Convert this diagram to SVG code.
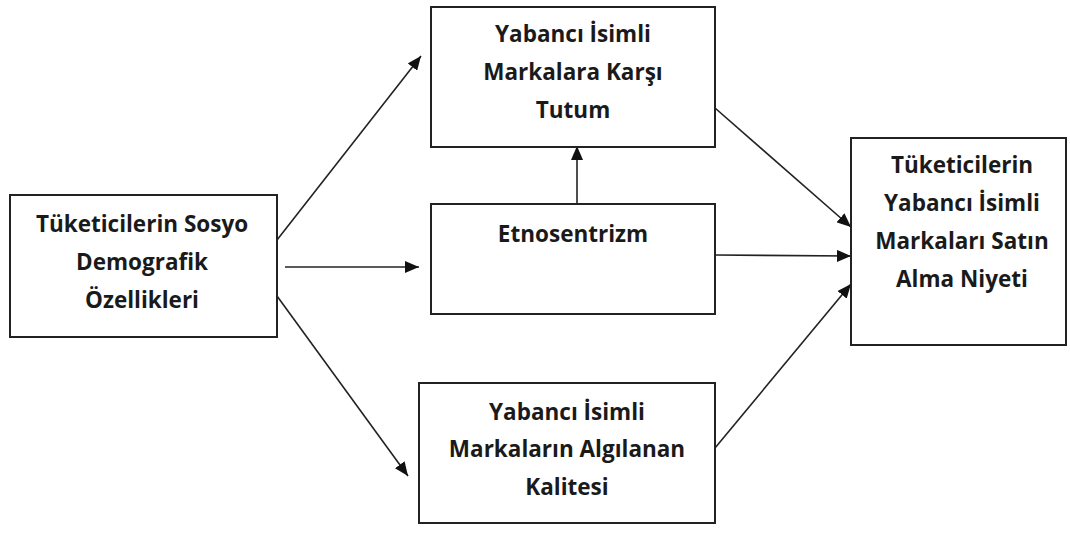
<svg xmlns="http://www.w3.org/2000/svg" width="1070" height="536" viewBox="0 0 1070 536">
<defs>
<style>
.box{fill:#fff;stroke:#222;stroke-width:2}
.t{font-family:"Open Sans","Liberation Sans",sans-serif;font-weight:700;font-size:22.5px;fill:#1a1a1a;text-anchor:middle}
.c{stroke:#222;stroke-width:1.6;fill:none;marker-end:url(#ah)}
</style>
<marker id="ah" viewBox="0 0 14 12" refX="14" refY="6" markerWidth="14" markerHeight="12" markerUnits="userSpaceOnUse" orient="auto">
<path d="M0,0 L14,6 L0,12 Z" fill="#111"/>
</marker>
</defs>
<rect width="1070" height="536" fill="#fff"/>
<g id="connectors">
<line class="c" x1="277" y1="240" x2="421" y2="56"/>
<line class="c" x1="285" y1="267" x2="419" y2="267"/>
<line class="c" x1="277" y1="296" x2="408" y2="476"/>
<line class="c" x1="577" y1="204" x2="577" y2="146"/>
<line class="c" x1="715" y1="108" x2="851" y2="227"/>
<line class="c" x1="715" y1="255" x2="851" y2="256"/>
<line class="c" x1="715" y1="448" x2="851" y2="284"/>
</g>
<g id="n1">
<rect class="box" x="10" y="195" width="267" height="142"/>
<text class="t" x="142" y="232">Tüketicilerin Sosyo</text>
<text class="t" x="142" y="270">Demografik</text>
<text class="t" x="142" y="308">Özellikleri</text>
</g>
<g id="n2">
<rect class="box" x="431" y="7" width="284" height="140"/>
<text class="t" x="573" y="42">Yabancı İsimli</text>
<text class="t" x="573" y="80">Markalara Karşı</text>
<text class="t" x="573" y="118">Tutum</text>
</g>
<g id="n3">
<rect class="box" x="431" y="204" width="284" height="110"/>
<text class="t" x="573" y="242">Etnosentrizm</text>
</g>
<g id="n4">
<rect class="box" x="419" y="383" width="296" height="140"/>
<text class="t" x="567" y="420">Yabancı İsimli</text>
<text class="t" x="567" y="457">Markaların Algılanan</text>
<text class="t" x="567" y="495">Kalitesi</text>
</g>
<g id="n5">
<rect class="box" x="851" y="138" width="215" height="207"/>
<text class="t" x="962" y="173">Tüketicilerin</text>
<text class="t" x="962" y="211">Yabancı İsimli</text>
<text class="t" x="962" y="249">Markaları Satın</text>
<text class="t" x="962" y="287">Alma Niyeti</text>
</g>
</svg>
